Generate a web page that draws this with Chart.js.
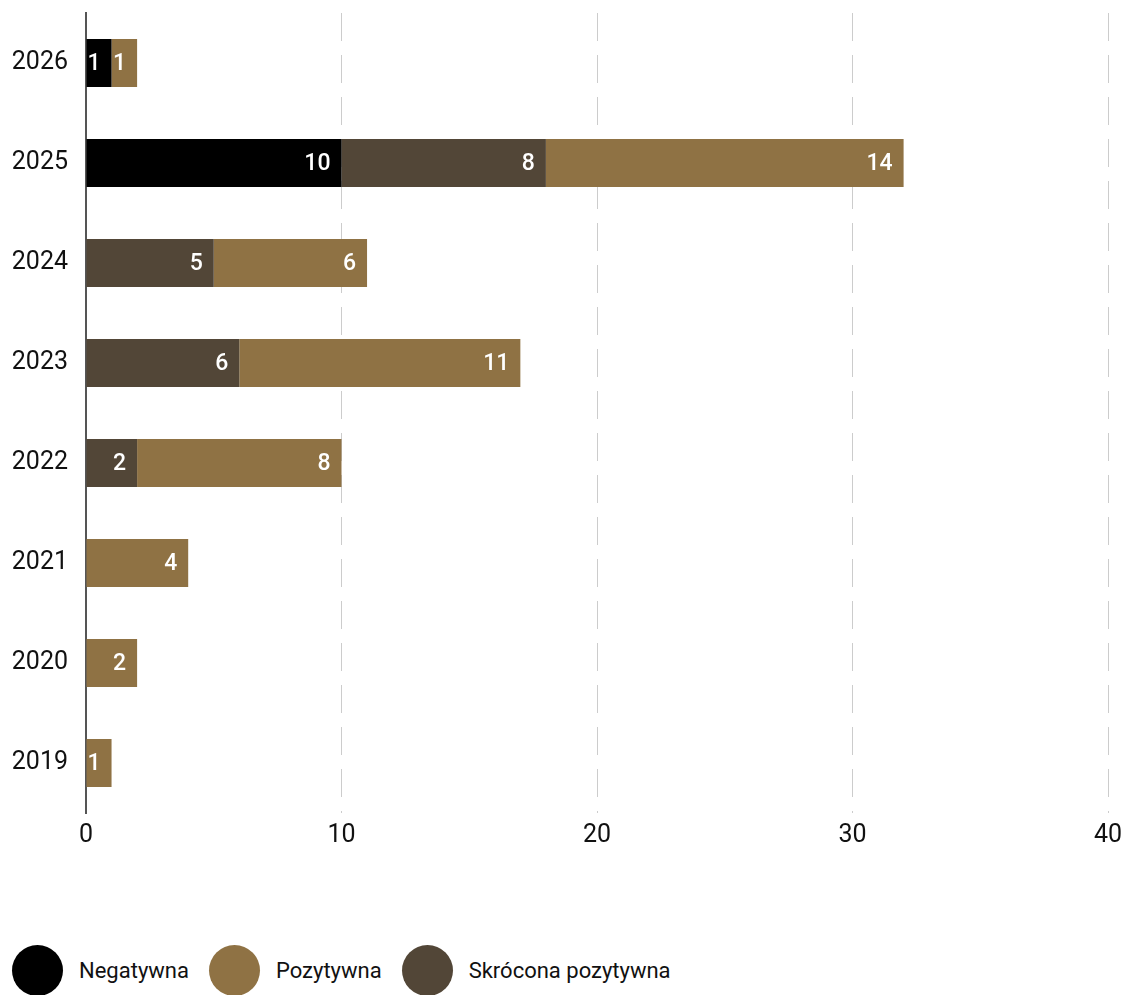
<!DOCTYPE html>
<html lang="pl">
<head>
<meta charset="utf-8">
<script src="https://cdn.jsdelivr.net/npm/chart.js@4.4.1/dist/chart.umd.min.js"></script>
<style>
  html, body { margin: 0; padding: 0; background: #fff; }
  body { width: 1125px; height: 995px; position: relative; overflow: hidden; font-family: Roboto, sans-serif; }
  #chart-wrap { position: absolute; left: 0; top: 0; width: 1125px; height: 860px; }
  #legend { position: absolute; left: 12px; top: 945px; display: flex; align-items: center; }
  .legend-item { display: flex; align-items: center; margin-right: 20px; }
  .legend-dot { width: 51px; height: 51px; border-radius: 50%; margin-right: 16px; }
  .legend-label { font-size: 22px; color: #111; }
</style>
</head>
<body>
<div id="chart-wrap"><canvas id="chart"></canvas></div>
<div id="legend"></div>

<script>
const years = ['2026', '2025', '2024', '2023', '2022', '2021', '2020', '2019'];
const negatywna = [1, 10, 0, 0, 0, 0, 0, 0];
const skrocona = [0, 8, 5, 6, 2, 0, 0, 0];
const pozytywna = [1, 14, 6, 11, 8, 4, 2, 1];
const xTicks = [0, 10, 20, 30, 40];

const COLORS = {
  negatywna: '#000000',
  pozytywna: '#8f7244',
  skrocona: '#524637'
};

// legend order differs from stacking order
const legendItems = [
  { label: 'Negatywna', color: COLORS.negatywna },
  { label: 'Pozytywna', color: COLORS.pozytywna },
  { label: 'Skrócona pozytywna', color: COLORS.skrocona }
];

const barLabels = {
  id: 'barLabels',
  afterDatasetsDraw(chart) {
    const ctx = chart.ctx;
    ctx.save();
    ctx.font = '500 23px Roboto, sans-serif';
    ctx.fillStyle = '#ffffff';
    ctx.textAlign = 'right';
    ctx.textBaseline = 'middle';
    chart.data.datasets.forEach((ds, i) => {
      const meta = chart.getDatasetMeta(i);
      meta.data.forEach((bar, j) => {
        const v = ds.data[j];
        if (!v) return;
        ctx.fillText(String(v), bar.x - 11, bar.y + 1);
      });
    });
    ctx.restore();
  }
};

function renderLegend() {
  const el = document.getElementById('legend');
  legendItems.forEach(item => {
    const div = document.createElement('div');
    div.className = 'legend-item';
    div.innerHTML = `<span class="legend-dot" style="background:${item.color}"></span><span class="legend-label">${item.label}</span>`;
    el.appendChild(div);
  });
}

function renderChart() {
  const tickFont = { family: 'Roboto, sans-serif', size: 25 };
  const ctx = document.getElementById('chart').getContext('2d');
  new Chart(ctx, {
    type: 'bar',
    data: {
      labels: years,
      datasets: [
        { label: 'Negatywna', data: negatywna, backgroundColor: COLORS.negatywna },
        { label: 'Skrócona pozytywna', data: skrocona, backgroundColor: COLORS.skrocona },
        { label: 'Pozytywna', data: pozytywna, backgroundColor: COLORS.pozytywna }
      ]
    },
    options: {
      indexAxis: 'y',
      responsive: true,
      maintainAspectRatio: false,
      animation: false,
      barPercentage: 0.48,
      categoryPercentage: 1,
      layout: { padding: { top: 13, right: 17, left: 0, bottom: 0 } },
      plugins: {
        legend: { display: false },
        tooltip: { enabled: false }
      },
      scales: {
        x: {
          stacked: true,
          min: xTicks[0],
          max: xTicks[xTicks.length - 1],
          afterBuildTicks: (scale) => { scale.ticks = xTicks.map(v => ({ value: v })); },
          afterFit: (scale) => {
            scale.height = 47;
            scale.paddingRight = 0;
          },
          grid: { color: '#cccccc', lineWidth: 1, drawTicks: false },
          border: { display: false, dash: [28, 14] },
          ticks: { color: '#111', font: tickFont, padding: 8, maxRotation: 0 }
        },
        y: {
          stacked: true,
          afterFit: (scale) => {
            scale.width = 86;
            scale.paddingTop = 0;
            scale.paddingBottom = 0;
          },
          grid: { display: false, drawTicks: false },
          border: { display: true, color: '#555555', width: 2 },
          ticks: { color: '#111', font: tickFont, padding: 18 }
        }
      }
    },
    plugins: [barLabels]
  });
}

renderLegend();
renderChart();
</script>
</body>
</html>
